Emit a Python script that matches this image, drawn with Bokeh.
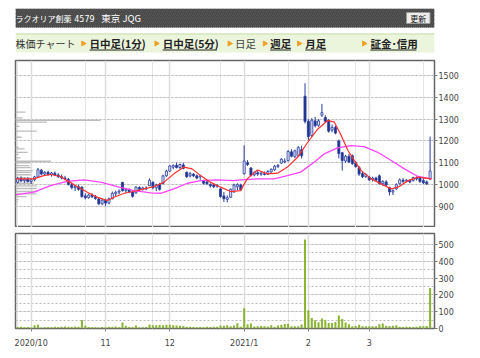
import math
from bokeh.plotting import figure
from bokeh.layouts import column
from bokeh.models import Range1d, FixedTicker, LinearAxis, Grid, Label
from bokeh.embed import file_html
from bokeh.resources import INLINE

# ---------------- data ----------------
title_name = "ラクオリア創薬"
title_code = "4579"
title_mkt = "東京 JQG"
nav_items = ["日中足(1分)", "日中足(5分)", "日足", "週足", "月足", "証金･信用"]

month_idx = [4, 26, 45, 67, 86, 104]
month_labels = ["2020/10", "11", "12", "2021/1", "2", "3"]
price_ticks = [900, 1000, 1100, 1200, 1300, 1400, 1500]
vol_ticks = [0, 100, 200, 300, 400, 500]
vol_grid = [50, 100, 150, 200, 250, 300, 350, 400, 450, 500]

opens = [1010,1028,1018,1025,1014,1022,1035,1066,1048,1056, 1046,1052,1044,1036,1030,1024,1000,986,990,988,
         948,940,952,944,934,912,928,915,935,958, 965,1010,972,978,966,962,986,978,984,995,
         1010,985,1000,1005,1040,1062,1080,1088,1078,1090, 1056,1040,1048,1040,1035,1018,1012,1000,998,992,
         980,948,932,942,966,990,998,1050,1100,1076, 1044,1054,1048,1050,1048,1058,1068,1082,1098,1104,
         1110,1150,1128,1132,1160,1405,1290,1225,1292,1272, 1318,1308,1292,1250,1262,1200,1146,1108,1130,1132,
         1100,1078,1050,1036,1034,1024,1030,1040,1004,1012, 986,966,980,1004,1020,1016,1018,1018,1030,1030,
         1018,1012,1026]
highs = [1035,1038,1032,1033,1028,1040,1076,1072,1062,1064, 1058,1060,1052,1046,1040,1030,1010,998,1000,992,
         960,958,960,952,940,935,935,940,968,972, 978,1012,985,982,975,992,992,990,992,1028,
         1015,1004,1008,1045,1068,1090,1092,1100,1096,1100, 1060,1058,1052,1046,1045,1022,1020,1006,1004,1002,
         984,966,950,982,1004,1006,1004,1180,1112,1080, 1060,1062,1058,1060,1066,1074,1090,1094,1122,1120,
         1158,1162,1160,1176,1178,1465,1300,1305,1310,1300, 1370,1318,1300,1275,1270,1206,1150,1136,1140,1138,
         1108,1084,1058,1052,1040,1036,1036,1046,1020,1020, 990,978,1006,1028,1030,1026,1024,1036,1038,1036,
         1030,1018,1220]
lows = [1005,1012,1008,1010,1002,1015,1030,1042,1040,1040, 1036,1038,1030,1024,1020,996,978,970,972,940,
        932,935,938,930,905,905,900,910,932,948, 955,968,960,962,940,958,970,972,974,992,
        978,970,972,1000,1036,1058,1070,1074,1072,1070, 1030,1032,1034,1024,1022,1000,998,986,984,985,
        940,920,918,938,962,975,970,1045,1085,1038, 1038,1040,1040,1042,1044,1054,1062,1076,1095,1098,
        1106,1125,1122,1128,1120,1280,1200,1218,1262,1265, 1310,1282,1238,1240,1230,1120,1064,1100,1098,1090,
        1078,1040,1030,1030,1016,1014,1016,1000,994,992, 950,952,976,1000,1008,1010,1006,1014,1018,1008,
        1002,998,1020]
closes = [1028,1018,1025,1014,1022,1035,1068,1048,1056,1046, 1053,1044,1036,1030,1026,1000,986,992,978,945,
          940,952,944,936,912,928,915,935,960,965, 970,972,978,966,946,988,978,985,980,1020,
          985,998,978,1040,1062,1085,1088,1078,1092,1074, 1036,1050,1040,1030,1040,1006,1004,994,990,996,
          945,935,940,978,998,1000,976,1108,1092,1042, 1055,1048,1052,1046,1060,1070,1084,1088,1116,1108,
          1152,1130,1155,1170,1132,1290,1220,1295,1270,1292, 1330,1290,1245,1262,1236,1142,1110,1130,1104,1096,
          1082,1048,1036,1046,1022,1030,1020,1004,1014,998, 966,972,1000,1022,1014,1020,1012,1032,1026,1014,
          1008,1004,1062]
volume = [9,10,8,9,6,20,22,6,8,9, 8,10,9,10,12,11,10,12,10,50,
          18,9,8,7,6,9,8,10,11,12, 7,35,16,9,8,18,8,7,9,24,
          20,19,21,20,22,22,20,18,16,15, 10,10,9,8,9,8,10,9,11,10,
          18,16,20,14,18,31,10,121,25,29, 12,14,15,13,12,20,10,18,22,27,
          28,14,13,14,24,530,108,63,49,37, 59,49,33,33,39,78,57,35,25,14,
          15,22,14,13,14,14,13,25,29,16, 15,16,20,10,9,11,10,9,10,14,
          14,15,241]

ma_short_idx = [-0.6,4.8,7.7,9.7,12.7,14.6,17.6,20.6,23.5,26.5,28.5,31.5,34.4,37.4,40.4,43.3,46.2,49.2,51.6,
                54.1,57,60,63,65.9,67.9,70.9,73.9,76.9,79.8,82.8,85.8,88.8,91.7,93.7,95.7,97.7,99.6,101.6,
                104.6,107.5,110.5,112.5,115.5,118.4,122.4]
ma_short = [1026,1026,1041,1046,1037,1018,991,965,942,927,942,960,968,980,991,1011,1049,1080,1072,
            1041,1011,988,968,972,1026,1067,1049,1052,1080,1125,1194,1255,1294,1286,1225,1156,1110,1064,
            1026,1003,980,988,1018,1034,1026]
ma_long_idx = [-0.6,4.8,9.7,14.6,19.6,24.5,29.5,34.4,39.4,42.3,46.2,50.2,54.1,59,64,65.9,70.9,75.8,79.8,
               83.7,87.7,90.7,94.6,98.6,102.5,106.5,110.5,114.4,118.4,122.4]
ma_long = [953,965,995,1015,1021,1011,991,972,962,960,980,1006,1018,1021,1018,1021,1026,1026,1041,
           1057,1102,1141,1168,1179,1174,1148,1110,1072,1037,1026]

vbp_price = [1332,1306,1294,1286,1267,1245,1217,1171,1164,1148,1138,1122,1107,1100,1087,1078,1064,1056,
             1045,1031,1018,1006,994,982,968,957,945,931,919,908]
vbp_vol = [30,21,252,93,12,63,18,9,27,36,9,15,105,45,42,45,51,45,45,45,45,54,63,63,66,63,33,9,6,3]

# ---------------- layout constants ----------------
W = 464
X0, X1 = -0.64, 123.3
FONT = "DejaVu Sans"
JP = "Noto Sans CJK JP"

# ---------------- top banner ----------------
top = figure(width=W, height=48, x_range=Range1d(0, W), y_range=Range1d(48, 0),
             output_backend="svg", toolbar_location=None, x_axis_location=None,
             y_axis_location=None, min_border=0)
top.grid.visible = False
top.outline_line_color = None
top.quad(left=[0], right=[W], top=[0], bottom=[19], fill_color="#474747", line_color=None,
         hatch_pattern="/", hatch_color="#555555", hatch_scale=4, hatch_weight=1)
top.add_layout(Label(x=0, y=9.5, text=title_name, text_color="white", text_font=JP,
                     text_font_size="8px", text_baseline="middle"))
top.add_layout(Label(x=65, y=9.5, text=title_code, text_color="white", text_font=FONT,
                     text_font_size="8px", text_baseline="middle"))
top.add_layout(Label(x=95, y=9.5, text=title_mkt, text_color="white", text_font=JP,
                     text_font_size="9.5px", text_baseline="middle"))
top.quad(left=[433], right=[459], top=[4], bottom=[15], fill_color="#ececec", line_color="#9a9a9a")
top.add_layout(Label(x=446, y=9.8, text="更新", text_color="#111", text_font=JP, text_font_size="8px",
                     text_baseline="middle", text_align="center"))
top.quad(left=[0], right=[W], top=[25], bottom=[44], fill_color="#ebf5dc", line_color=None)
top.segment(x0=[0], y0=[25.5], x1=[W], y1=[25.5], line_color="#d3e6bd", line_width=1.5)
top.add_layout(Label(x=0, y=35, text="株価チャート", text_color="#333", text_font=JP,
                     text_font_size="10px", text_baseline="middle"))
bul_x = [75, 156, 237, 276, 314, 386]
txt_x = [82, 163, 243, 282, 321, 393]
bold = [True, True, False, True, True, True]
ul = [(82, 142), (163, 223), None, (282, 305), (321, 344), (393, 444)]
top.scatter(x=bul_x, y=[35] * 6, marker="triangle", angle=-math.pi / 2, size=5,
            fill_color="#f2a024", line_color="#f2a024")
for t, xx, b, u in zip(nav_items, txt_x, bold, ul):
    top.add_layout(Label(x=xx, y=35, text=t, text_color="#222" if b else "#444", text_font=JP,
                         text_font_size="10.5px", text_baseline="middle",
                         text_font_style="bold" if b else "normal"))
    if u:
        top.segment(x0=[u[0]], y0=[41.5], x1=[u[1]], y1=[41.5], line_color="#222", line_width=1)

# ---------------- price panel ----------------
pf = figure(width=W, height=171, x_range=Range1d(X0, X1), y_range=Range1d(803, 1569),
            output_backend="svg", toolbar_location=None, x_axis_location=None,
            y_axis_location=None, min_border=0, min_border_left=7, min_border_right=38,
            min_border_top=4, min_border_bottom=0)
pf.outline_line_color = "#666666"
pf.outline_line_width = 1.5
pf.add_layout(Grid(dimension=1, ticker=FixedTicker(ticks=price_ticks), grid_line_color="#b8b8b8",
                   grid_line_dash="2 2"))
pf.add_layout(Grid(dimension=0, ticker=FixedTicker(ticks=month_idx), grid_line_color="#dcdcdc",
                   grid_line_width=1.5))
pax = LinearAxis(ticker=FixedTicker(ticks=price_ticks), axis_line_color=None, major_tick_out=3,
                 major_tick_in=0, major_tick_line_color="#777", minor_tick_line_color=None,
                 major_label_text_font=FONT, major_label_text_font_size="8px",
                 major_label_text_color="#444", major_label_standoff=1)
pf.add_layout(pax, "right")

pf.hbar(y=vbp_price, left=[X0] * len(vbp_price), right=[X0 + v * 0.1 for v in vbp_vol], height=6,
        fill_color="#bdbdbd", line_color=None)

idx = list(range(len(closes)))
up = [c >= o for o, c in zip(opens, closes)]
body_top = [max(o, c) for o, c in zip(opens, closes)]
body_bot = [min(o, c) for o, c in zip(opens, closes)]
fills = ["#dfe4f8" if u else "#1e3288" for u in up]
pf.segment(x0=idx, y0=lows, x1=idx, y1=highs, line_color="#2b3f9e", line_width=1)
pf.vbar(x=idx, top=body_top, bottom=body_bot, width=0.62, fill_color=fills, line_color="#2b3f9e",
        line_width=0.8)
pf.line(ma_long_idx, ma_long, line_color="#ff44ff", line_width=1.3)
pf.line(ma_short_idx, ma_short, line_color="#ff3030", line_width=1.2)

# ---------------- volume panel ----------------
vf = figure(width=W, height=123, x_range=pf.x_range, y_range=Range1d(0, 565),
            output_backend="svg", toolbar_location=None, x_axis_location=None,
            y_axis_location=None, min_border=0, min_border_left=7, min_border_right=38,
            min_border_top=6, min_border_bottom=21)
vf.outline_line_color = "#666666"
vf.outline_line_width = 1.5
vf.add_layout(Grid(dimension=1, ticker=FixedTicker(ticks=vol_grid), grid_line_color="#b8b8b8",
                   grid_line_dash="2 2"))
vf.add_layout(Grid(dimension=0, ticker=FixedTicker(ticks=month_idx), grid_line_color="#dcdcdc",
                   grid_line_width=1.5))
vax = LinearAxis(ticker=FixedTicker(ticks=vol_ticks), axis_line_color=None, major_tick_out=3,
                 major_tick_in=0, major_tick_line_color="#777", minor_tick_line_color=None,
                 major_label_text_font=FONT, major_label_text_font_size="8px",
                 major_label_text_color="#444", major_label_standoff=1)
vf.add_layout(vax, "right")
xax = LinearAxis(ticker=FixedTicker(ticks=month_idx),
                 major_label_overrides={m: l for m, l in zip(month_idx, month_labels)},
                 axis_line_color=None, major_tick_out=3, major_tick_in=0,
                 major_tick_line_color="#888", minor_tick_line_color=None,
                 major_label_text_font=FONT, major_label_text_font_size="8px",
                 major_label_text_color="#444", major_label_standoff=7)
vf.add_layout(xax, "below")
vf.vbar(x=idx, top=volume, bottom=0, width=0.6, fill_color="#8ab432", line_color=None)
vf.add_layout(Label(x=X1, y=565, x_offset=3, y_offset=2, text="×万", text_font=JP,
                    text_font_size="7px", text_color="#444", text_baseline="middle"))

layout = column(top, pf, vf, spacing=0, margin=(8, 0, 0, 8))
open("out.html", "w").write(file_html(layout, INLINE))
